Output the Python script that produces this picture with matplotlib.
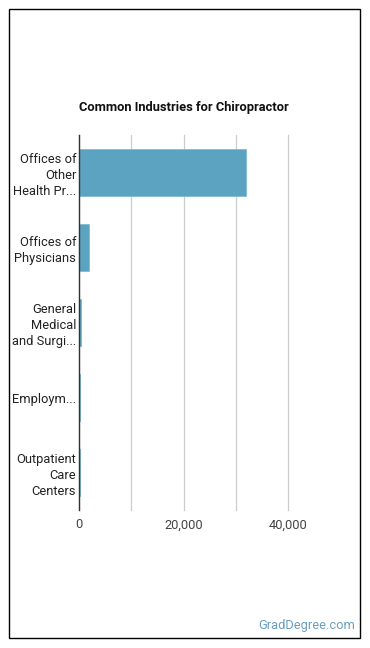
import matplotlib.pyplot as plt
from matplotlib.patches import Rectangle

plt.rcParams["font.family"] = ["Roboto", "DejaVu Sans"]

# Data.
industries = [
    "Offices of\nOther\nHealth Pr...",
    "Offices of\nPhysicians",
    "General\nMedical\nand Surgi...",
    "Employm...",
    "Outpatient\nCare\nCenters",
]
employment = [32000, 1900, 400, 250, 150]
x_ticks = [0, 10000, 20000, 30000, 40000]
x_tick_labels = ["0", "", "20,000", "", "40,000"]

BAR_COLOR = "#5ca3c1"
W, H = 370, 648

fig = plt.figure(figsize=(W / 100, H / 100), dpi=100)
ax = fig.add_axes([79 / W, 1 - 510 / H, 209 / W, 375 / H])

positions = list(range(len(industries)))
ax.barh(positions, employment, height=0.63, color=BAR_COLOR,
        edgecolor="#7fbad1", linewidth=0.6, zorder=3)
ax.set_ylim(len(industries) - 0.5, -0.5)
ax.set_xlim(0, 40000)

ax.set_yticks(positions)
ax.set_yticklabels(industries, fontsize=9.3, color="#222222", linespacing=1.3)
ax.set_xticks(x_ticks)
ax.set_xticklabels(x_tick_labels, fontsize=9.3, color="#444444")
ax.tick_params(axis="both", length=0)
ax.tick_params(axis="x", pad=6)
ax.tick_params(axis="y", pad=2)

ax.grid(axis="x", color="#cccccc", linewidth=0.9, zorder=0)
for line in ax.xaxis.get_gridlines():
    line.set_clip_on(False)
for side in ["top", "right", "bottom"]:
    ax.spines[side].set_visible(False)
ax.spines["left"].set_color("#333333")
ax.spines["left"].set_linewidth(1.0)
ax.spines["left"].set_zorder(4)

fig.text(184 / W, 1 - 107 / H, "Common Industries for Chiropractor",
         ha="center", va="center", fontsize=9.3, fontweight="bold", color="#111111")
fig.text(355 / W, 1 - 626 / H, "GradDegree.com", ha="right", va="center",
         fontsize=9.3, color="#6a9fc0")

fig.patches.append(Rectangle((8.5 / W, 1 - 637.5 / H), 351 / W, 628.5 / H,
                             transform=fig.transFigure, fill=False,
                             edgecolor="black", linewidth=1.0))

fig.savefig("out.png", dpi=100)
plt.close(fig)
